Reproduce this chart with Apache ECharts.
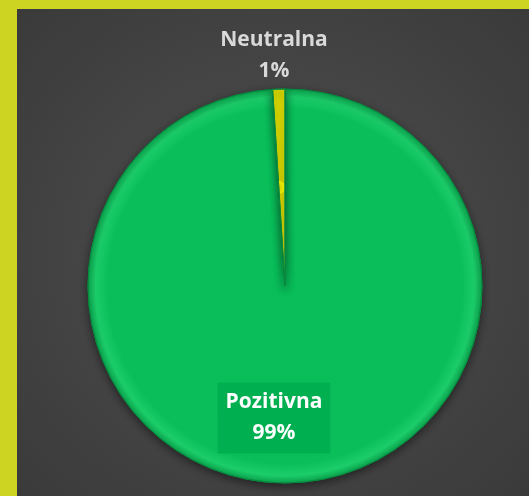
<!DOCTYPE html>
<html>
<head>
<meta charset="utf-8">
<script src="https://cdn.jsdelivr.net/npm/echarts@6/dist/echarts.min.js"></script>
<style>
    html, body {margin: 0; padding: 0; width: 529px; height: 496px; background: #cdd422; overflow: hidden;}
    #chart {
        position: absolute; left: 17px; top: 9px; width: 512px; height: 487px;
        background: radial-gradient(ellipse at 50% 50%, #4b4b4b 0%, #444444 55%, #3a3a3a 100%);
    }
</style>
</head>
<body>
<div id="chart"></div>
<script>
    // 数据
    var categories = ['Pozitivna', 'Neutralna'];
    var values = [99, 1];
    var percentLabels = ['99%', '1%'];

    var sliceColors = ['#0abf5a', '#ffff00'];

    var myChart = echarts.init(document.getElementById('chart'));

    var pieData = [];
    for (var i = 0; i < categories.length; i++) {
        pieData.push({
            name: categories[i],
            value: values[i],
            itemStyle: {
                color: {
                    type: 'radial', x: 0.5, y: 0.5, r: 0.5,
                    colorStops: i === 0 ? [
                        {offset: 0, color: '#09bd59'},
                        {offset: 0.9, color: '#0abf5a'},
                        {offset: 0.96, color: '#1ccd6a'},
                        {offset: 1, color: '#0aa64e'}
                    ] : [
                        {offset: 0, color: '#e6e600'},
                        {offset: 0.9, color: '#ffff00'},
                        {offset: 1, color: '#d9d900'}
                    ]
                }
            },
            label: i === 0 ? {
                color: '#ffffff',
                backgroundColor: '#00b050',
                padding: [5, 8, 4, 8]
            } : {
                color: '#d9d9d9'
            }
        });
    }

    var option = {
        series: [
            {
                type: 'pie',
                center: [268, 277],
                radius: 197,
                startAngle: 90,
                clockwise: true,
                silent: true,
                itemStyle: {
                    borderColor: '#078a40',
                    borderWidth: 1,
                    shadowBlur: 8,
                    shadowColor: 'rgba(0,0,0,0.45)',
                    shadowOffsetY: 3
                },
                label: {
                    show: true,
                    position: 'inside',
                    fontFamily: 'Open Sans',
                    fontWeight: 'bold',
                    fontSize: 21,
                    lineHeight: 31,
                    align: 'center',
                    verticalAlign: 'middle',
                    formatter: function (p) {
                        return p.name + '\n' + percentLabels[p.dataIndex];
                    }
                },
                labelLine: {show: false},
                labelLayout: function (params) {
                    if (params.dataIndex === 0) {
                        return {x: 257, y: 409, align: 'center', verticalAlign: 'middle'};
                    }
                    return {x: 257, y: 47, align: 'center', verticalAlign: 'middle'};
                },
                data: pieData
            }
        ]
    };
    myChart.setOption(option);
</script>
</body>
</html>
